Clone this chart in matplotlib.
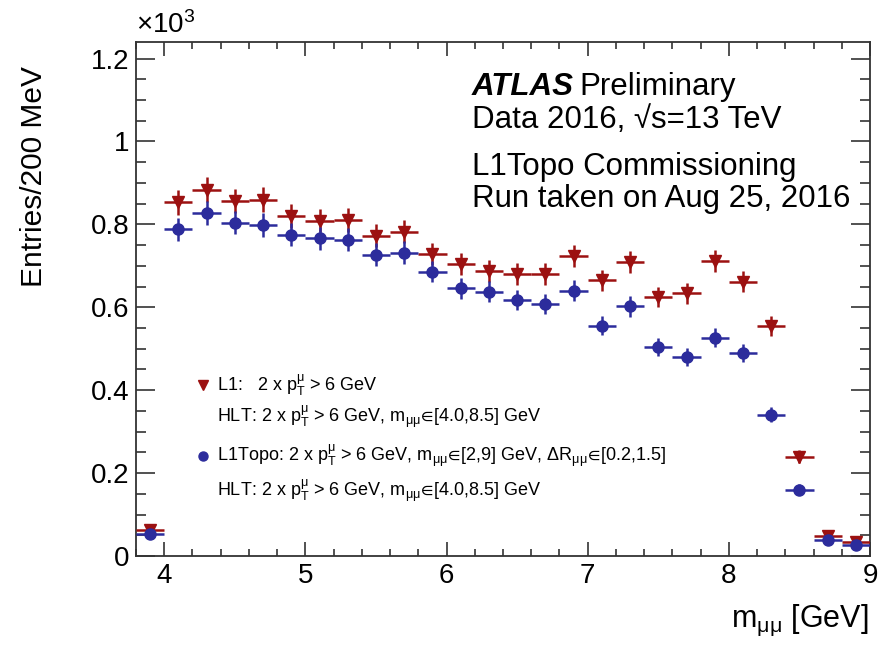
import numpy as np
import matplotlib
matplotlib.use("Agg")
import matplotlib.pyplot as plt
from matplotlib.ticker import MultipleLocator, FormatStrFormatter

plt.rcParams["font.family"] = ["Liberation Sans", "DejaVu Sans"]
plt.rcParams["mathtext.fontset"] = "custom"
plt.rcParams["mathtext.rm"] = "Liberation Sans"
plt.rcParams["mathtext.it"] = "Liberation Sans:italic"
plt.rcParams["mathtext.bf"] = "Liberation Sans:bold"
plt.rcParams["mathtext.fallback"] = "stixsans"

# ── data (entries / 200 MeV, in units of 10^3) ───────────────────────────────
bin_centers = [3.9, 4.1, 4.3, 4.5, 4.7, 4.9, 5.1, 5.3, 5.5, 5.7, 5.9, 6.1, 6.3,
               6.5, 6.7, 6.9, 7.1, 7.3, 7.5, 7.7, 7.9, 8.1, 8.3, 8.5, 8.7, 8.9]
l1_entries = [0.063, 0.853, 0.884, 0.856, 0.860, 0.821, 0.809, 0.810, 0.773,
              0.782, 0.728, 0.704, 0.688, 0.680, 0.680, 0.724, 0.665, 0.710,
              0.625, 0.634, 0.712, 0.662, 0.555, 0.240, 0.048, 0.034]
topo_entries = [0.054, 0.788, 0.828, 0.804, 0.799, 0.775, 0.767, 0.763, 0.727,
                0.732, 0.686, 0.646, 0.638, 0.618, 0.608, 0.640, 0.556, 0.602,
                0.504, 0.481, 0.527, 0.490, 0.341, 0.160, 0.039, 0.027]
BIN_HALF = 0.1

RED  = "#9c1111"
BLUE = "#2c2c9c"

x     = np.array(bin_centers)
y_l1  = np.array(l1_entries)
y_top = np.array(topo_entries)
# Poisson errors on the raw counts
err_l1  = np.sqrt(y_l1 * 1000) / 1000
err_top = np.sqrt(y_top * 1000) / 1000

W, H = 889, 649
fig = plt.figure(figsize=(W / 100, H / 100), dpi=100)
ax = fig.add_axes([136/W, 1 - 556/H, (870 - 136)/W, (556 - 42)/H])


def fy(py):
    """pixel row (from top) -> figure fraction"""
    return 1 - py / H


ax.errorbar(x, y_l1, xerr=BIN_HALF, yerr=err_l1, fmt="v", color=RED,
            ms=8, elinewidth=1.8, capsize=0, zorder=3)
ax.errorbar(x, y_top, xerr=BIN_HALF, yerr=err_top, fmt="o", color=BLUE,
            ms=8, elinewidth=1.8, capsize=0, zorder=4)

ax.set_xlim(3.8, 9.0)
ax.set_ylim(0, 1.24)

ax.xaxis.set_major_locator(MultipleLocator(1))
ax.xaxis.set_minor_locator(MultipleLocator(0.2))
ax.yaxis.set_major_locator(MultipleLocator(0.2))
ax.yaxis.set_minor_locator(MultipleLocator(0.05))
ax.yaxis.set_major_formatter(FormatStrFormatter("%g"))

ax.tick_params(axis="both", which="both", direction="in", top=True,
               right=True, labelsize=20, width=1.2, color="#333333")
ax.tick_params(axis="x", which="major", length=10, pad=5)
ax.tick_params(axis="x", which="minor", length=5)
ax.tick_params(axis="y", which="major", length=14, pad=5)
ax.tick_params(axis="y", which="minor", length=7)
for sp in ax.spines.values():
    sp.set_linewidth(1.3)
    sp.set_color("#333333")

# ── axis labels ──────────────────────────────────────────────────────────────
fig.text(34/W, fy(66), "Entries/200 MeV", rotation=90, ha="center",
         va="top", fontsize=21.5)
fig.text(869/W, fy(627), r"$\mathrm{m}_{\mathrm{μμ}}$ [GeV]",
         ha="right", va="baseline", fontsize=22)
fig.text(136/W, fy(33), r"×10$^{\mathrm{3}}$", ha="left",
         va="baseline", fontsize=20)

# ── ATLAS label block ────────────────────────────────────────────────────────
lx = 472/W
t_atlas = fig.text(lx, fy(95), "ATLAS", fontsize=22.5, fontweight="bold",
                   fontstyle="italic", va="baseline")
ax.annotate("Preliminary", xy=(1, 0), xycoords=t_atlas, xytext=(4, 0),
            textcoords="offset points", fontsize=22.5, va="bottom")
fig.text(lx, fy(128), "Data 2016, √s=13 TeV", fontsize=22.5, va="baseline")
fig.text(lx, fy(175), "L1Topo Commissioning", fontsize=22.5, va="baseline")
fig.text(lx, fy(207), "Run taken on Aug 25, 2016", fontsize=22.5,
         va="baseline")

# ── legend ───────────────────────────────────────────────────────────────────
pT = r"$\mathrm{p}_{\mathrm{T}}^{\mathrm{μ}}$"
mmm = r"$\mathrm{m}_{\mathrm{μμ}}\!\in\!$"
dR = r"$\Delta\mathrm{R}_{\mathrm{μμ}}\!\in\!$"
leg_rows = [
    (385, RED, "v", f"L1:   2 x {pT} > 6 GeV"),
    (417, None, None, f"HLT: 2 x {pT} > 6 GeV, {mmm}[4.0,8.5] GeV"),
    (456, BLUE, "o", f"L1Topo: 2 x {pT} > 6 GeV, {mmm}[2,9] GeV, {dR}[0.2,1.5]"),
    (491, None, None, f"HLT: 2 x {pT} > 6 GeV, {mmm}[4.0,8.5] GeV"),
]
for ypx, col, mk, label in leg_rows:
    if mk is not None:
        fig.add_artist(plt.Line2D([203/W], [fy(ypx)], marker=mk, color=col,
                                  ms=6.5, ls="none", transform=fig.transFigure))
    fig.text(217/W, fy(ypx), label, fontsize=13, va="center")

fig.savefig("out.png", dpi=100)
